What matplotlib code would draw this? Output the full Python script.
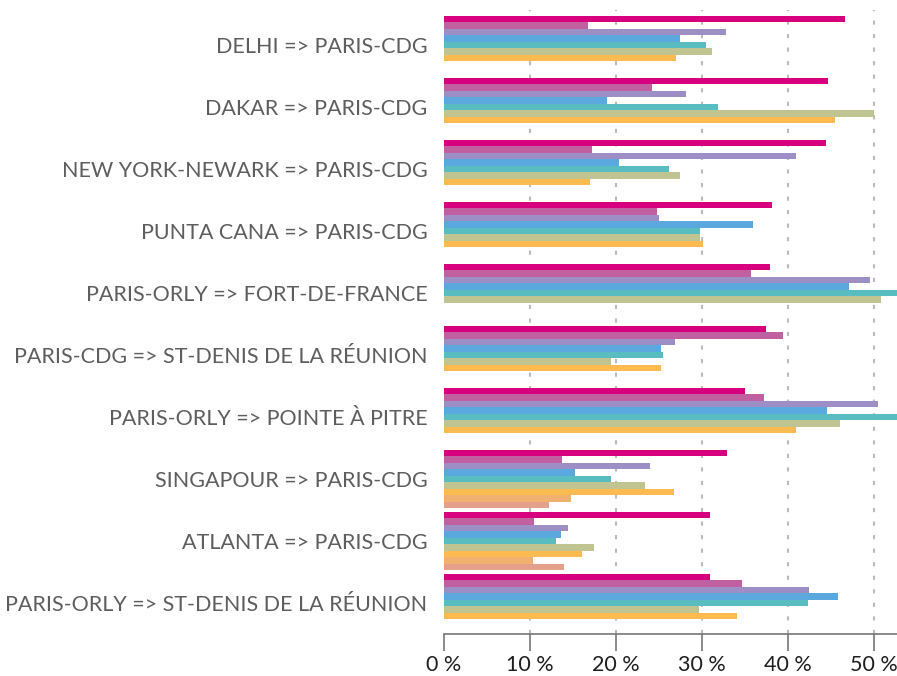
import numpy as np
import matplotlib
matplotlib.use("Agg")
import matplotlib.pyplot as plt

routes = [
    "DELHI => PARIS-CDG",
    "DAKAR => PARIS-CDG",
    "NEW YORK-NEWARK => PARIS-CDG",
    "PUNTA CANA => PARIS-CDG",
    "PARIS-ORLY => FORT-DE-FRANCE",
    "PARIS-CDG => ST-DENIS DE LA RÉUNION",
    "PARIS-ORLY => POINTE À PITRE",
    "SINGAPOUR => PARIS-CDG",
    "ATLANTA => PARIS-CDG",
    "PARIS-ORLY => ST-DENIS DE LA RÉUNION",
]

nan = np.nan
s1 = [46.6, 44.7, 44.4, 38.1, 37.9, 37.4, 35.0, 32.9, 30.9, 30.9]
s2 = [16.7, 24.2, 17.2, 24.8, 35.7, 39.4, 37.2, 13.7, 10.5, 34.7]
s3 = [32.8, 28.1, 40.9, 25.0, 49.5, 26.9, 50.5, 23.9, 14.4, 42.4]
s4 = [27.4, 19.0, 20.3, 35.9, 47.1, 25.2, 44.5, 15.2, 13.6, 45.8]
s5 = [30.5, 31.9, 26.2, 29.8, 54.0, 25.5, 55.0, 19.4, 13.0, 42.3]
s6 = [31.2, 50.0, 27.4, 29.8, 50.8, 19.4, 46.0, 23.4, 17.4, 29.7]
s7 = [27.0, 45.5, 17.0, 30.1, nan, 25.2, 40.9, 26.7, 16.0, 34.1]
s8 = [nan, nan, nan, nan, nan, nan, nan, 14.8, 10.3, nan]
s9 = [nan, nan, nan, nan, nan, nan, nan, 12.2, 14.0, nan]
series = [s1, s2, s3, s4, s5, s6, s7, s8, s9]
colors = ["#D6007F", "#C060A0", "#9E8EC6", "#5AA8DE", "#58BCC0",
          "#BFC490", "#FBBB50", "#F0B070", "#E4A08A"]
xticks = [0, 10, 20, 30, 40, 50]
xticklabels = ["0 %", "10 %", "20 %", "30 %", "40 %", "50 %"]

plt.rcParams['font.family'] = ['Lato', 'DejaVu Sans']

fig = plt.figure(figsize=(8.97, 6.76), dpi=100)
ax = fig.add_axes([444/897, 42/676, 453/897, 624/676])

n = len(series)
h = 0.104
y = np.arange(len(routes))
for j, (vals, c) in enumerate(zip(series, colors)):
    off = (j - (n - 1) / 2) * h
    ax.barh(y + off, vals, height=h, color=c, zorder=2, linewidth=0)

ax.set_xlim(0, 52.67)
ax.set_ylim(9.5, -0.565)
ax.set_yticks(y)
ax.set_yticklabels(routes, fontsize=15.5, color="#5E5E5E")
ax.tick_params(axis='y', length=0, pad=12)
ax.set_xticks(xticks)
ax.set_xticklabels(xticklabels, fontsize=15.5, color="#1E1E1E")
ax.tick_params(axis='x', length=12, width=1.2, color="#777777", pad=3)

for t in xticks[1:]:
    ax.axvline(t, color="#BBBBBB", linewidth=1.5, linestyle=(0, (2, 4.5)), zorder=1)

for s in ['top', 'right', 'left']:
    ax.spines[s].set_visible(False)
ax.spines['bottom'].set_color("#777777")
ax.spines['bottom'].set_linewidth(1.2)

fig.savefig("out.png", dpi=100)
